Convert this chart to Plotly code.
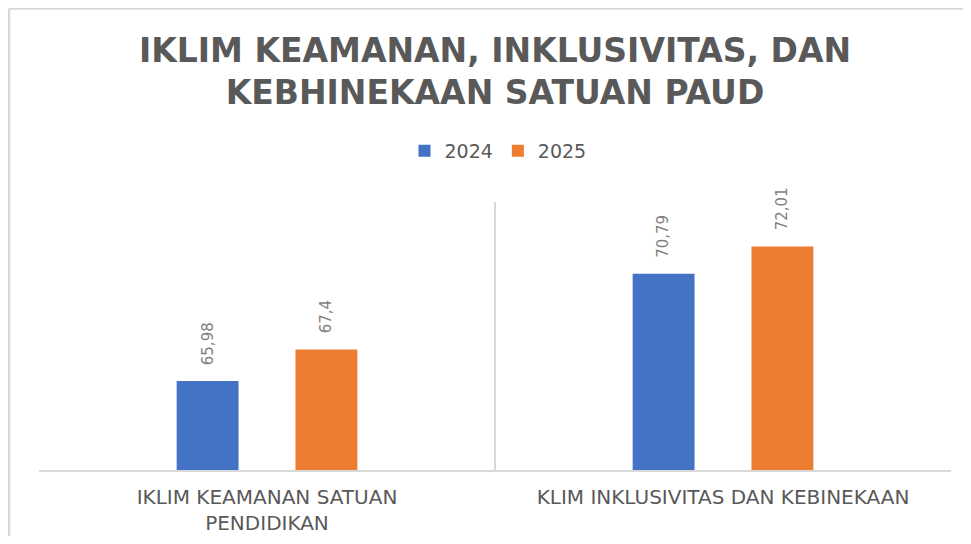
import plotly.graph_objects as go

categories = ["IKLIM KEAMANAN SATUAN<br>PENDIDIKAN", "KLIM INKLUSIVITAS DAN KEBINEKAAN"]
series_names = ["2024", "2025"]
values_2024 = [65.98, 70.79]
values_2025 = [67.4, 72.01]
colors = ["#4472C4", "#ED7D31"]

# The page body has an 8px margin; figure coordinates below are page coordinates minus 8.
W, H = 955, 528
ml, mr, mt, mb = 31, 12, 194, 66
bargap = 0.479
bargroupgap = 0.479

def fmt(v):
    return ("%g" % v).replace(".", ",")

fig = go.Figure()
all_vals = [values_2024, values_2025]
for name, vals, col in zip(series_names, all_vals, colors):
    fig.add_trace(go.Bar(
        name=name, x=categories, y=vals, marker=dict(color=col, line=dict(width=0)),
    ))

plot_w = W - ml - mr
plot_h = H - mt - mb
slot_px = plot_w / len(categories) * (1 - bargap) / len(series_names)
annotations = []
for i, vals in enumerate(all_vals):
    for c, v in zip(categories, vals):
        annotations.append(dict(
            x=c, y=v, xref="x", yref="y", text=fmt(v), showarrow=False,
            textangle=-90, yanchor="bottom", xanchor="center",
            xshift=(i - (len(series_names) - 1) / 2) * slot_px, yshift=14,
            font=dict(family="DejaVu Sans", size=15, color="#7F7F7F"),
        ))

px = lambda x: (x - ml) / plot_w
py = lambda y: 1 + (mt - y) / plot_h
shapes = [
    dict(type="line", xref="paper", yref="paper", x0=px(1), x1=px(W + 5), y0=py(0.5), y1=py(0.5),
         line=dict(color="#D9D9D9", width=2.5)),
    dict(type="line", xref="paper", yref="paper", x0=px(1), x1=px(1), y0=py(0.5), y1=py(H + 5),
         line=dict(color="#D9D9D9", width=2.5)),
]

fig.update_layout(
    width=W, height=H,
    margin=dict(l=ml, r=mr, t=mt, b=mb, autoexpand=False),
    paper_bgcolor="white", plot_bgcolor="white",
    barmode="group", bargap=bargap, bargroupgap=bargroupgap,
    title=dict(
        text="IKLIM KEAMANAN, INKLUSIVITAS, DAN<br>KEBHINEKAAN SATUAN PAUD",
        x=0.5, xref="paper", xanchor="center",
        y=1 - 53.5 / H, yref="container", yanchor="middle",
        font=dict(family="DejaVu Sans", size=33, color="#595959", weight="bold"),
    ),
    legend=dict(
        orientation="h", x=px(490), y=py(143), xanchor="center", yanchor="middle",
        font=dict(family="DejaVu Sans", size=19, color="#595959"),
        itemwidth=30, traceorder="normal",
    ),
    xaxis=dict(
        type="category", tickson="boundaries", showgrid=True, gridcolor="#D9D9D9", gridwidth=1.5,
        showline=True, linecolor="#D9D9D9", linewidth=1.5, ticks="",
        tickfont=dict(family="DejaVu Sans", size=20, color="#595959"),
        ticklabelstandoff=8, zeroline=False, automargin=False,
    ),
    yaxis=dict(range=[62, 74], visible=False, showgrid=False, zeroline=False, automargin=False),
    annotations=annotations,
    shapes=shapes,
)

fig.write_html("out.html")
